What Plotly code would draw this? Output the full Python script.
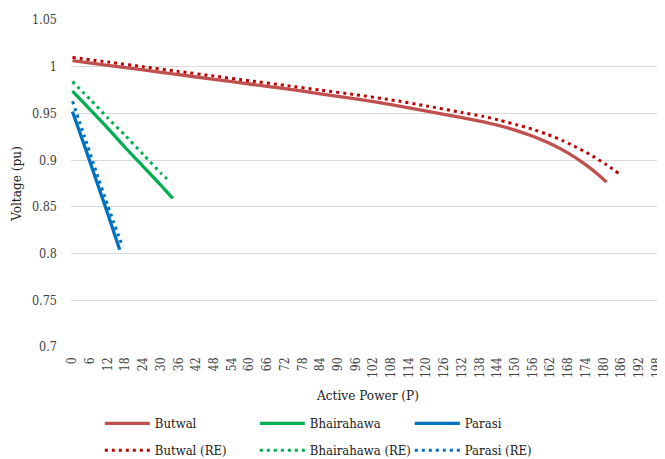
import plotly.graph_objects as go

# ---- data ----
butwal_p = [0, 12, 24, 36, 48, 60, 72, 84, 96, 108, 120, 132, 138, 144, 150, 156, 162, 168, 174, 178, 181]
butwal_v = [1.0065, 1.0015, 0.9965, 0.9915, 0.9865, 0.9815, 0.9765, 0.971, 0.9655, 0.9595, 0.9525,
            0.9455, 0.9418, 0.9375, 0.9322, 0.9255, 0.9175, 0.9075, 0.895, 0.885, 0.8765]

butwal_re_p = [0, 12, 24, 36, 48, 60, 72, 84, 96, 108, 120, 132, 139, 145, 151, 156, 161, 166, 170, 174, 177, 181, 185]
butwal_re_v = [1.010, 1.005, 1.000, 0.995, 0.990, 0.985, 0.980, 0.975, 0.970, 0.9645, 0.958, 0.951,
               0.947, 0.9425, 0.9375, 0.933, 0.9275, 0.921, 0.915, 0.9085, 0.903, 0.895, 0.886]

bhair_p = [0, 6, 12, 18, 24, 30, 34]
bhair_v = [0.974, 0.954, 0.934, 0.913, 0.893, 0.873, 0.859]

bhair_re_p = [0, 6, 12, 18, 24, 30, 33]
bhair_re_v = [0.984, 0.965, 0.945, 0.926, 0.906, 0.886, 0.877]

parasi_p = [0, 4, 8, 12, 16]
parasi_v = [0.952, 0.916, 0.879, 0.842, 0.804]

parasi_re_p = [0, 4, 8, 12, 17]
parasi_re_v = [0.963, 0.926, 0.888, 0.851, 0.807]

x_ticks = list(range(0, 199, 6))
y_ticks = [0.7, 0.75, 0.8, 0.85, 0.9, 0.95, 1, 1.05]
y_tick_text = ["0.7", "0.75", "0.8", "0.85", "0.9", "0.95", "1", "1.05"]

FONT = "DejaVu Serif Condensed, DejaVu Serif, serif"
TXT = "#404040"

fig = go.Figure()

solid = [("Butwal", butwal_p, butwal_v, "#C0504D"),
         ("Bhairahawa", bhair_p, bhair_v, "#00B050"),
         ("Parasi", parasi_p, parasi_v, "#0070C0")]
dotted = [("Butwal (RE)", butwal_re_p, butwal_re_v, "#C00000"),
          ("Bhairahawa (RE)", bhair_re_p, bhair_re_v, "#00B050"),
          ("Parasi (RE)", parasi_re_p, parasi_re_v, "#0070C0")]

for name, xs, ys, col in solid:
    fig.add_trace(go.Scatter(x=xs, y=ys, name=name, mode="lines",
                             line=dict(color=col, width=3.3, shape="spline", smoothing=0.6),
                             legend="legend"))
for name, xs, ys, col in dotted:
    fig.add_trace(go.Scatter(x=xs, y=ys, name=name, mode="lines",
                             line=dict(color=col, width=3, dash="3px,4px", shape="spline", smoothing=0.6),
                             legend="legend2"))

legend_common = dict(orientation="h", xanchor="left", yanchor="middle",
                     entrywidth=95, entrywidthmode="pixels",
                     font=dict(family=FONT, size=13, color="#202020"),
                     bgcolor="rgba(0,0,0,0)", itemwidth=45,
                     traceorder="normal")

# the page body adds an 8px offset, so margins are reduced to compensate
fig.update_layout(
    width=657, height=459,
    margin=dict(l=63, r=0, t=12, b=120),
    plot_bgcolor="white", paper_bgcolor="white",
    font=dict(family=FONT, size=13, color=TXT),
    xaxis=dict(range=[-0.5, 200.8], tickmode="array", tickvals=x_ticks,
               ticktext=[str(t) for t in x_ticks], tickangle=-90,
               showgrid=False, zeroline=False, showline=False, automargin=False,
               ticks="", ticklabelstandoff=7,
               ticklabeloverflow="allow",
               tickfont=dict(family=FONT, size=12, color=TXT),
               title=dict(text="Active Power (P)", standoff=13,
                          font=dict(family=FONT, size=13.5, color="#202020"))),
    yaxis=dict(range=[0.7, 1.05], tickmode="array", tickvals=y_ticks, ticktext=y_tick_text,
               showgrid=True, gridcolor="#D9D9D9", gridwidth=1, automargin=False,
               zeroline=False, showline=False, ticks="", ticklabelstandoff=13,
               tickfont=dict(family=FONT, size=12.5, color=TXT),
               title=dict(text="Voltage (pu)", standoff=9,
                          font=dict(family=FONT, size=13.5, color="#202020"))),
    legend=dict(x=0.0485, y=-0.2336, **legend_common),
    legend2=dict(x=0.0485, y=-0.316, **legend_common),
    showlegend=True,
)

fig.write_html("out.html")
